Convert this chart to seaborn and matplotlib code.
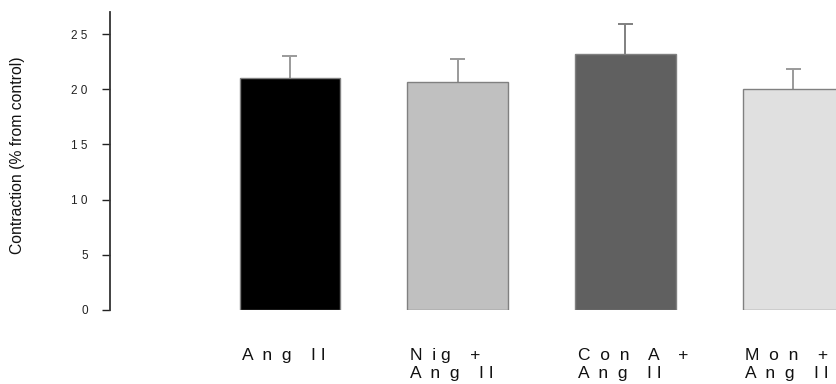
import numpy as np
import pandas as pd
import matplotlib
matplotlib.use("Agg")
import matplotlib.pyplot as plt
import matplotlib.transforms as mtransforms
import seaborn as sns

# ── data ──
groups = ["Ang II", "Nig + Ang II", "Con A + Ang II", "Mon + Ang II"]
contraction = [21.0, 20.7, 23.2, 20.05]
sem = [2.05, 2.0, 2.7, 1.75]
bar_colors = ["#000000", "#c0c0c0", "#606060", "#e0e0e0"]
err_colors = ["#9a9a9a", "#9a9a9a", "#808080", "#9a9a9a"]
# letter-spaced labels as printed in the figure
tick_text = ["A  n  g    I I",
             "N  i g    +\nA  n  g    I I",
             "C  o  n    A    +\nA  n  g    I I",
             "M  o  n    +\nA  n  g    I I"]
yticks = [0, 5, 10, 15, 20, 25]
ytick_text = ["0", "5", "1 0", "1 5", "2 0", "2 5"]

df = pd.DataFrame({"Group": groups, "Contraction": contraction})

sns.set_theme(style="white")
plt.rcParams["font.family"] = ["Liberation Sans", "DejaVu Sans"]

fig = plt.figure(figsize=(8.37, 3.84), dpi=100)
ax = fig.add_axes([110 / 837, 74 / 384, 727 / 837, 298 / 384])

sns.barplot(data=df, x="Group", y="Contraction", hue="Group",
            palette=bar_colors, width=0.6, edgecolor="#808080",
            linewidth=1.0, legend=False, errorbar=None, ax=ax, zorder=2)

# upper-only error bars (SEM)
xs = np.arange(len(groups))
tops = np.array(contraction) + np.array(sem)
ax.vlines(xs, contraction, tops, colors=err_colors, linewidth=1.4, zorder=1)
ax.hlines(tops, xs - 0.045, xs + 0.045, colors=err_colors, linewidth=1.4, zorder=1)

ax.set_xlim(-1.073, 3.262)
ax.set_ylim(0, 27)
ax.set_xticks([])
ax.set_xlabel("")
ax.set_yticks(yticks)
ax.set_yticklabels(ytick_text, fontsize=8.5, color="#222222")
ax.tick_params(axis="y", length=6, width=1.0, pad=10, colors="#222222", left=True)

for side in ["top", "right", "bottom"]:
    ax.spines[side].set_visible(False)
ax.spines["left"].set_color("#333333")
ax.spines["left"].set_linewidth(1.3)

ax.set_ylabel("Contraction (% from control)", fontsize=11.3, color="#111111")
ax.yaxis.set_label_coords(-0.117, 0.52)

trans = mtransforms.blended_transform_factory(ax.transData, fig.transFigure)
for i, lab in enumerate(tick_text):
    ax.text(i - 0.285, 1 - 348 / 384, lab, transform=trans, ha="left", va="top",
            fontsize=12.5, linespacing=1.25, color="#111111", clip_on=False)

fig.savefig("out.png", dpi=100)
